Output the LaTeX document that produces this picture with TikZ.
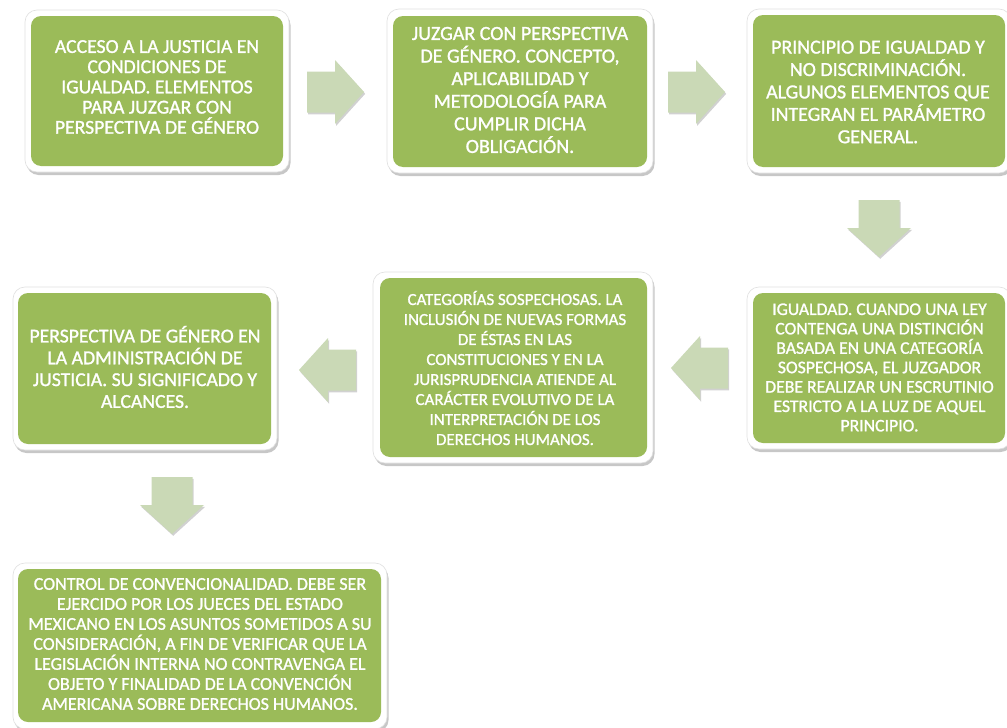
\documentclass[tikz,border=0pt]{standalone}
\usepackage{fontspec}
\setmainfont{Carlito}[FakeBold=1.2]
\usetikzlibrary{shadows}
\definecolor{boxgreen}{HTML}{9BBB59}
\definecolor{arrowgreen}{HTML}{CAD9B6}
\begin{document}
\begin{tikzpicture}[x=1pt,y=-1pt,
  outerbox/.style={fill=white, draw=black!12, line width=0.6pt, rounded corners=12pt,
    inner sep=0pt, outer sep=0pt,
    drop shadow={shadow xshift=1.5pt, shadow yshift=-3pt, opacity=0.22, fill=black}},
  innerbox/.style={fill=boxgreen, rounded corners=10pt, inner sep=0pt, outer sep=0pt},
  lbl/.style={text=white, align=center, inner sep=0pt},
  blockarrow/.pic={
    \fill[arrowgreen, drop shadow={shadow xshift=1.2pt, shadow yshift=-1.8pt, opacity=0.18, fill=black}]
      (-28,-20.5) -- (0,-20.5) -- (0,-32) -- (29,0) -- (0,32) -- (0,20.5) -- (-28,20.5) -- cycle;
  }
]
\useasboundingbox (0,0) rectangle (1007,728);
\fill[white] (0,0) rectangle (1007,728);

% Box 1
\node[outerbox, minimum width=264pt, minimum height=162pt] (o1) at (157,91) {};
\node[innerbox, minimum width=252pt, minimum height=150pt] (b1) at (157,91) {};
\node[lbl, font=\fontsize{19.7}{20.2}\selectfont] (t1) at (157,87)
  {ACCESO A LA JUSTICIA EN\\CONDICIONES DE\\IGUALDAD. ELEMENTOS\\PARA JUZGAR CON\\PERSPECTIVA DE GÉNERO};

% Box 2
\node[outerbox, minimum width=266pt, minimum height=164pt] (o2) at (520,91) {};
\node[innerbox, minimum width=254pt, minimum height=151pt] (b2) at (520,91.5) {};
\node[lbl, font=\fontsize{20}{22.6}\selectfont] (t2) at (520,90)
  {JUZGAR CON PERSPECTIVA\\DE GÉNERO. CONCEPTO,\\APLICABILIDAD Y\\METODOLOGÍA PARA\\CUMPLIR DICHA\\OBLIGACIÓN.};

% Box 3
\node[outerbox, minimum width=264pt, minimum height=164pt] (o3) at (879,91) {};
\node[innerbox, minimum width=252pt, minimum height=152pt] (b3) at (879,91) {};
\node[lbl, font=\fontsize{19.9}{22.4}\selectfont] (t3) at (878,92)
  {PRINCIPIO DE IGUALDAD Y\\NO DISCRIMINACIÓN.\\ALGUNOS ELEMENTOS QUE\\INTEGRAN EL PARÁMETRO\\GENERAL.};

% Box 4
\node[outerbox, minimum width=264pt, minimum height=162pt] (o4) at (879,368) {};
\node[innerbox, minimum width=252pt, minimum height=150pt] (b4) at (879,368) {};
\node[lbl, font=\fontsize{17.7}{19.4}\selectfont] (t4) at (879.5,367.5)
  {IGUALDAD. CUANDO UNA LEY\\CONTENGA UNA DISTINCIÓN\\BASADA EN UNA CATEGORÍA\\SOSPECHOSA, EL JUZGADOR\\DEBE REALIZAR UN ESCRUTINIO\\ESTRICTO A LA LUZ DE AQUEL\\PRINCIPIO.};

% Box 5
\node[outerbox, minimum width=280pt, minimum height=191pt] (o5) at (513,367.5) {};
\node[innerbox, minimum width=267pt, minimum height=179pt] (b5) at (513.5,367.5) {};
\node[lbl, font=\fontsize{16.9}{20}\selectfont] (t5) at (515,368)
  {CATEGORÍAS SOSPECHOSAS. LA\\INCLUSIÓN DE NUEVAS FORMAS\\DE ÉSTAS EN LAS\\CONSTITUCIONES Y EN LA\\JURISPRUDENCIA ATIENDE AL\\CARÁCTER EVOLUTIVO DE LA\\INTERPRETACIÓN DE LOS\\DERECHOS HUMANOS.};

% Box 6
\node[outerbox, minimum width=264pt, minimum height=163pt] (o6) at (145,368.5) {};
\node[innerbox, minimum width=253pt, minimum height=151pt] (b6) at (144.5,368.5) {};
\node[lbl, font=\fontsize{19.7}{21.8}\selectfont] (t6) at (145,367)
  {PERSPECTIVA DE GÉNERO EN\\LA ADMINISTRACIÓN DE\\JUSTICIA. SU SIGNIFICADO Y\\ALCANCES.};

% Box 7
\node[outerbox, minimum width=374pt, minimum height=166pt] (o7) at (200,646) {};
\node[innerbox, minimum width=363pt, minimum height=153pt] (b7) at (199.5,645.5) {};
\node[lbl, font=\fontsize{18}{20}\selectfont] (t7) at (200,644)
  {CONTROL DE CONVENCIONALIDAD. DEBE SER\\EJERCIDO POR LOS JUECES DEL ESTADO\\MEXICANO EN LOS ASUNTOS SOMETIDOS A SU\\CONSIDERACIÓN, A FIN DE VERIFICAR QUE LA\\LEGISLACIÓN INTERNA NO CONTRAVENGA EL\\OBJETO Y FINALIDAD DE LA CONVENCIÓN\\AMERICANA SOBRE DERECHOS HUMANOS.};

% Block arrows
\pic (a12) at (335,92) {blockarrow};
\pic (a23) at (696,92) {blockarrow};
\pic[rotate=-90] (a34) at (879,228) {blockarrow};
\pic[rotate=180] (a45) at (700,368) {blockarrow};
\pic[rotate=180] (a56) at (328,370) {blockarrow};
\pic[rotate=-90] (a67) at (172,505) {blockarrow};
\end{tikzpicture}
\end{document}
